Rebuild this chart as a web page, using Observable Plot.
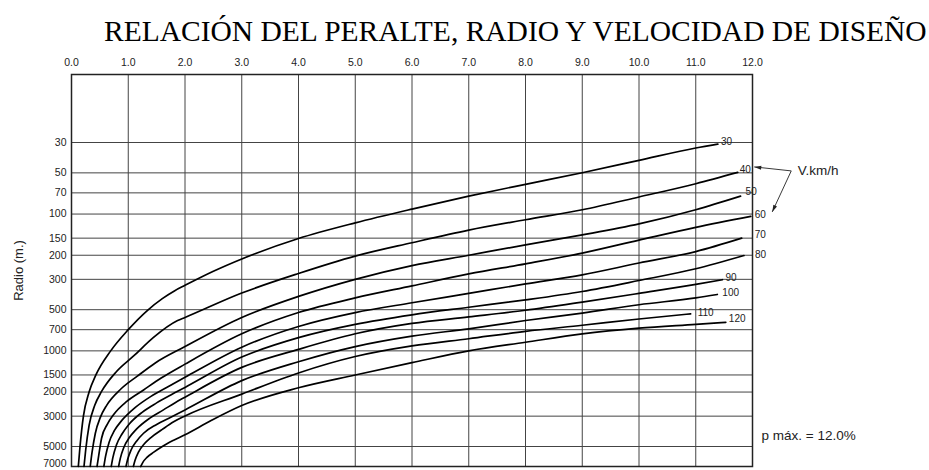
<!DOCTYPE html>
<html>
<head>
<meta charset="utf-8">
<script src="https://cdn.jsdelivr.net/npm/d3@7"></script>
<script src="https://cdn.jsdelivr.net/npm/@observablehq/plot@0.6"></script>
<style>
  html, body { margin: 0; padding: 0; background: #fff; }
  #wrap { position: relative; width: 929px; height: 470px; overflow: hidden; }
  #title {
    position: absolute; left: 104px; top: 17px; margin: 0;
    font-family: "Liberation Serif", "Times New Roman", serif;
    font-size: 29.5px; line-height: 1; font-weight: normal; color: #000;
    white-space: nowrap;
  }
  #chart { position: absolute; left: 0; top: 50px; }
</style>
</head>
<body>
<div id="wrap">
  <h1 id="title">RELACIÓN DEL PERALTE, RADIO Y VELOCIDAD DE DISEÑO</h1>
  <div id="chart"></div>
</div>
<script>
// Peralte (%) on the top axis, curve radius (m) on a reversed log axis.
const peralteTicks = [0, 1, 2, 3, 4, 5, 6, 7, 8, 9, 10, 11, 12];
const radioTicks = [30, 50, 70, 100, 150, 200, 300, 500, 700, 1000, 1500, 2000, 3000, 5000, 7000];
const speeds = [30, 40, 50, 60, 70, 80, 90, 100, 110, 120];

// [peralte %, radio m] along each design-speed curve
const v30 = [[0.12,7000],[0.15,5000],[0.21,3000],[0.31,2000],[0.43,1500],[0.69,1000],[1.0,700],[1.34,505],[1.6,415],[1.82,363],[2,332],[2.5,262],[3,213],[4,151],[5,116],[6,92],[7,74],[8,60.6],[9,49.9],[10,40.5],[11,32.9],[11.39,30.8]];
const v40 = [[0.22,7000],[0.25,5300],[0.31,3500],[0.41,2500],[0.53,1980],[0.79,1420],[1.1,1085],[1.44,800],[1.87,600],[2,570],[3,378],[4,272],[5,203],[6,162],[7,131],[8,110],[9,93],[10,75],[11,60],[11.74,49.6]];
const v50 = [[0.33,7000],[0.36,5600],[0.42,4000],[0.51,3050],[0.62,2500],[0.87,1900],[1.16,1530],[1.47,1230],[2,930],[3,570],[4,400],[5,300],[6,238],[7,200],[8,168],[9,142],[10,118],[11,93],[11.79,74]];
const v60 = [[0.45,7000],[0.48,5800],[0.53,4350],[0.63,3450],[0.74,2930],[0.98,2330],[1.27,1930],[1.58,1580],[2,1250],[3,750],[4,524],[5,410],[6,335],[7,274],[8,231],[9,193],[10,155],[11,125],[11.97,104]];
const v70 = [[0.57,7000],[0.6,5900],[0.66,4700],[0.76,3800],[0.88,3250],[1.12,2600],[1.4,2150],[1.7,1830],[2,1560],[3,940],[4,663],[5,525],[6,445],[7,380],[8,324],[9,278],[10,228],[11,188],[11.81,150]];
const v80 = [[0.7,7000],[0.73,6000],[0.79,4900],[0.89,4050],[1.01,3450],[1.25,2800],[1.5,2400],[1.75,2100],[2,1850],[3,1110],[4,800],[5,640],[6,545],[7,480],[8,424],[9,368],[10,306],[11,251],[11.85,201]];
const v90 = [[0.83,7000],[0.86,6100],[0.92,5100],[1.02,4300],[1.14,3750],[1.38,3100],[1.62,2700],[1.82,2400],[2,2180],[3,1320],[4,975],[5,750],[6,630],[7,565],[8,505],[9,440],[10,380],[11,327],[11.47,302]];
const v100 = [[0.96,7000],[0.99,6200],[1.05,5300],[1.15,4550],[1.27,4000],[1.5,3450],[1.75,3050],[2,2700],[3,1650],[4,1200],[5,930],[6,780],[7,690],[8,600],[9,530],[10,460],[11,410],[11.38,387]];
const v110 = [[1.09,7000],[1.12,6300],[1.18,5500],[1.28,4800],[1.4,4300],[1.6,3750],[1.8,3300],[2,2990],[3,2070],[4,1450],[5,1100],[6,920],[7,815],[8,720],[9,650],[10,585],[10.91,536]];
const v120 = [[1.22,7000],[1.26,6500],[1.33,6000],[1.45,5500],[1.6,5000],[1.8,4500],[2,4100],[2.46,3230],[3,2510],[4,1860],[5,1500],[6,1220],[7,1000],[8,865],[9,752],[10,683],[11,640],[11.53,618]];

const curves = [v30, v40, v50, v60, v70, v80, v90, v100, v110, v120];
const rows = curves.flatMap((pts, i) => pts.map(([p, r]) => ({v: speeds[i], p, r})));
const ends = curves.map((pts, i) => ({v: speeds[i], p: pts[pts.length - 1][0], r: pts[pts.length - 1][1]}));

// label placement next to the end of each curve (px)
const labelNudge = {30: [3, -2], 40: [2, -3], 50: [5, -4], 60: [4, -2], 70: [13, -3], 80: [11, -1], 90: [3, -2], 100: [5, -2], 110: [7, -1], 120: [3, -3]};

const innerTicks = radioTicks.slice(0, -1);
const lastTick = radioTicks.slice(-1);

const plot = Plot.plot({
  width: 929,
  height: 420,
  marginTop: 24,
  marginBottom: 4,
  marginLeft: 71,
  marginRight: 177,
  style: {fontFamily: "'Liberation Sans', Arial, sans-serif", fontSize: "10.5px", color: "#222", background: "#fff"},
  x: {domain: [0, 12], axis: "top", ticks: peralteTicks, tickFormat: d => d.toFixed(1), tickSize: 0, tickPadding: 9, label: null},
  y: {type: "log", domain: [9.55, 7000], reverse: true, axis: null},
  marks: [
    Plot.ruleX(peralteTicks.filter(d => d > 0 && d < 12), {stroke: "#444", strokeWidth: 1}),
    Plot.ruleY(innerTicks, {stroke: "#444", strokeWidth: 1}),
    Plot.frame({stroke: "#222", strokeWidth: 1.5}),
    // radius tick labels (the bottom one sits on the frame edge)
    Plot.text(innerTicks, {y: d => d, frameAnchor: "left", textAnchor: "end", lineAnchor: "middle", dx: -5, text: d => String(d), fontSize: 10.5, fill: "#222"}),
    Plot.text(lastTick, {y: d => d, frameAnchor: "left", textAnchor: "end", lineAnchor: "middle", dx: -5, dy: -2.5, text: d => String(d), fontSize: 10.5, fill: "#222"}),
    Plot.line(rows, {x: "p", y: "r", z: "v", curve: "monotone-x", stroke: "#000", strokeWidth: 1.7}),
    ...ends.map(e => Plot.text([e], {x: "p", y: "r", text: d => String(d.v), textAnchor: "start", fontSize: 10, fill: "#222", dx: labelNudge[e.v][0], dy: labelNudge[e.v][1]})),
    Plot.text(["Radio (m.)"], {frameAnchor: "left", textAnchor: "middle", lineAnchor: "middle", rotate: -90, dx: -53, fontSize: 13, fill: "#222"}),
    Plot.text(["p máx. = 12.0%"], {frameAnchor: "bottom-right", textAnchor: "start", lineAnchor: "middle", dx: 9, dy: -31, fontSize: 13.5, fill: "#222"}),
    Plot.text([ends[1]], {x: "p", y: "r", text: () => "V.km/h", textAnchor: "start", dx: 60, dy: -2, fontSize: 13.5, fill: "#222"})
  ]
});
document.getElementById("chart").appendChild(plot);

// "V.km/h" callout arrows pointing at the speed labels
const sx = plot.scale("x"), sy = plot.scale("y");
const e40 = ends[1];
const ax = sx.apply(e40.p), ay = sy.apply(e40.r);
const tail = [ax + 54, ay - 1];
const tips = [[ax + 17, ay - 5], [ax + 35, ay + 40]];
const svg = d3.select(plot);
const g = svg.append("g").attr("stroke", "#222").attr("fill", "#222");
for (const [tx, ty] of tips) {
  g.append("line").attr("x1", tail[0]).attr("y1", tail[1]).attr("x2", tx).attr("y2", ty).attr("stroke-width", 0.9);
  const ang = Math.atan2(ty - tail[1], tx - tail[0]);
  const L = 7, W = 2;
  const bx = tx - L * Math.cos(ang), by = ty - L * Math.sin(ang);
  const nx = -Math.sin(ang) * W, ny = Math.cos(ang) * W;
  g.append("path").attr("stroke", "none")
    .attr("d", `M${tx},${ty}L${bx + nx},${by + ny}L${bx - nx},${by - ny}Z`);
}
</script>
</body>
</html>
